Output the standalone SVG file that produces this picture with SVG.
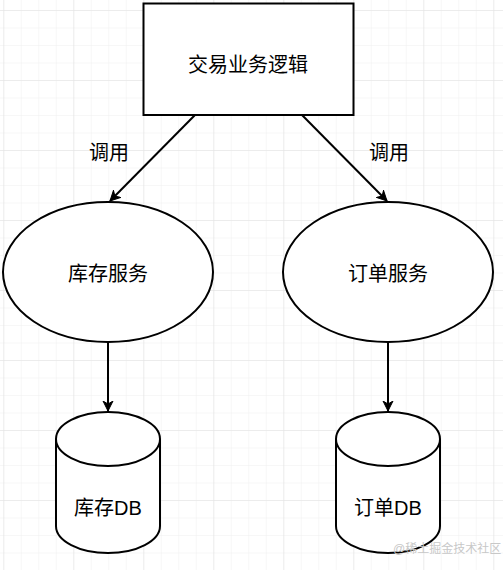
<svg xmlns="http://www.w3.org/2000/svg" width="503" height="570" viewBox="0 0 503 570">
<style>
.shape{fill:#fff;stroke:#000;stroke-width:2}
.edge{fill:none;stroke:#000;stroke-width:2}
.lbl{font-family:"Liberation Sans","Noto Sans CJK SC",sans-serif;font-size:20px;fill:#000;text-anchor:middle;dominant-baseline:central}
.wm{font-family:"Liberation Sans","Noto Sans CJK SC",sans-serif;font-size:12px;fill:#c8c8c8;text-anchor:start}
</style>
<defs>
<pattern id="minor" x="3.3" y="10" width="17.5" height="17.5" patternUnits="userSpaceOnUse">
<path d="M0 0V17.5M0 0H17.5" stroke="#efefef" stroke-width="1" fill="none"/>
</pattern>
<pattern id="major" x="3.3" y="10" width="70" height="70" patternUnits="userSpaceOnUse">
<path d="M0 0V70M0 0H70" stroke="#e2e2e2" stroke-width="1" fill="none"/>
</pattern>
<marker id="arr" markerWidth="12" markerHeight="12" refX="10" refY="6" orient="auto" markerUnits="userSpaceOnUse">
<path d="M0 1 L10 6 L0 11 L3 6 Z" fill="#000" stroke="#000" stroke-width="1"/>
</marker>
</defs>
<rect width="503" height="570" fill="#fff"/>
<rect width="503" height="570" fill="url(#minor)"/>
<rect width="503" height="570" fill="url(#major)"/>
<g id="connectors">
<line class="edge" x1="195" y1="115" x2="110" y2="201" marker-end="url(#arr)"/>
<line class="edge" x1="302" y1="115" x2="387" y2="201" marker-end="url(#arr)"/>
<line class="edge" x1="108" y1="342" x2="108" y2="411" marker-end="url(#arr)"/>
<line class="edge" x1="388" y1="342" x2="388" y2="411" marker-end="url(#arr)"/>
<text class="lbl" x="109" y="153">调用</text>
<text class="lbl" x="389" y="153">调用</text>
</g>
<g id="trade-logic">
<rect class="shape" x="143.5" y="3.5" width="210" height="111.5"/>
<text class="lbl" x="248" y="65">交易业务逻辑</text>
</g>
<g id="stock-service">
<ellipse class="shape" cx="108" cy="272" rx="105" ry="70"/>
<text class="lbl" x="108" y="274">库存服务</text>
</g>
<g id="order-service">
<ellipse class="shape" cx="388" cy="272" rx="105" ry="70"/>
<text class="lbl" x="388" y="274">订单服务</text>
</g>
<g id="stock-db">
<path class="shape" d="M56 439 A52 27 0 0 1 160 439 V526 A52 27 0 0 1 56 526 Z"/>
<path class="edge" d="M56 439 A52 27 0 0 0 160 439"/>
<text class="lbl" x="108" y="508">库存DB</text>
</g>
<g id="order-db">
<path class="shape" d="M336 439 A52 27 0 0 1 440 439 V526 A52 27 0 0 1 336 526 Z"/>
<path class="edge" d="M336 439 A52 27 0 0 0 440 439"/>
<text class="lbl" x="388" y="508">订单DB</text>
</g>
<text class="wm" x="393" y="553">@稀土掘金技术社区</text>
</svg>
